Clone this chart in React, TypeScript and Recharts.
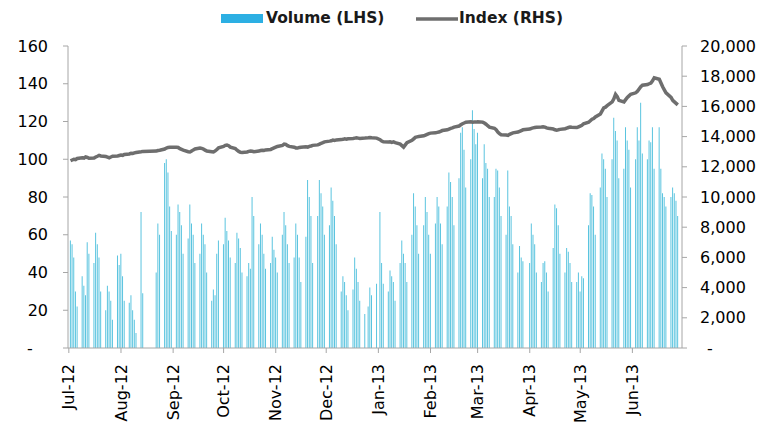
import React from "react";
import { ComposedChart, Bar, Line, XAxis, YAxis } from "recharts";

// month tick labels and the first calendar day of each month
const monthLabels = ["Jul-12", "Aug-12", "Sep-12", "Oct-12", "Nov-12", "Dec-12", "Jan-13", "Feb-13", "Mar-13", "Apr-13", "May-13", "Jun-13"];
const monthTicks = ["2012-07-01", "2012-08-01", "2012-09-01", "2012-10-01", "2012-11-01", "2012-12-01", "2013-01-01", "2013-02-01", "2013-03-01", "2013-04-01", "2013-05-01", "2013-06-01"];

// volume, one value per weekday (null = no trading)
const volJul12 = [57, 55, 48, 30, 22, 38, 33, 28, 56, 50, 45, 61, 55, 48, 30, 20, 33, 30, 25, 15, 49, 44];
const volAug12 = [50, 38, 25, 24, 28, 20, 15, 8, 72, 29, null, null, null, null, null, 40, 66, 60, 98, 100, 93, 75, 62];
const volSep12 = [60, 76, 72, 65, 50, 58, 76, 66, 60, 45, 50, 66, 60, 55, 40, 25, 31, 28, 50, 57];
const volOct12 = [55, 69, 62, 57, 48, 45, 61, 58, 53, 40, 38, 45, 42, 80, 70, 55, 66, 60, 50, 42, 45, 59, 52];
const volNov12 = [48, 40, 60, 72, 65, 55, 45, 48, 66, 60, 48, 35, 59, 89, 80, 70, 45, 70, 89, 82, 75, 60];
const volDec12 = [65, 85, 78, 70, 55, 30, 38, 35, 28, 20, 31, 48, 42, 35, 25, 18, null, 22, 32, 28, 34];
const volJan13 = [null, 72, 45, 34, 30, 41, 38, 35, 25, 45, 57, 50, 45, 35, 60, 82, 75, 65, 50, 65, 80, 72, 60];
const volFeb13 = [50, 66, 80, 75, 66, 55, 75, 93, 88, 80, 65, 90, 114, 117, 105, 85, 100, 126, 116, 108];
const volMar13 = [114, 90, 108, 98, 95, 80, 80, 95, 94, 85, 70, 60, 94, 75, 70, 55, 40, 54, 48, 46, null];
const volApr13 = [45, 66, 60, 55, 40, 35, 45, 46, 40, 30, 53, 76, 74, 65, 50, 40, 53, 51, 45, 35, 35, 40];
const volMay13 = [30, 38, 37, 65, 82, 81, 75, 60, 85, 103, 100, 95, 80, 100, 122, 115, 110, 90, 95, 117, 110, 105, 85];
const volJun13 = [100, 117, 110, 130, 103, 100, 110, 109, 117, 95, 117, 95, 82, 80, 75, 80, 85, 82, 78, 70];

// index level, one value per weekday
const idxJul12 = [12400, 12450, 12500, 12480, 12550, 12600, 12580, 12650, 12620, 12560, 12580, 12650, 12700, 12760, 12720, 12680, 12640, 12600, 12650, 12700, 12720, 12750];
const idxAug12 = [12780, 12760, 12820, 12850, 12900, 12880, 12920, 12950, 13000, 13020, null, null, null, null, null, 13040, 13080, 13100, 13180, 13240, 13280, 13300, 13300];
const idxSep12 = [13300, 13280, 13200, 13150, 13100, 13000, 12980, 13050, 13120, 13180, 13240, 13220, 13180, 13100, 13050, 13000, 12980, 13050, 13150, 13250];
const idxOct12 = [13350, 13420, 13440, 13400, 13300, 13200, 13100, 13020, 12960, 12950, 12980, 13020, 13050, 13030, 13000, 13040, 13080, 13100, 13080, 13120, 13150, 13200, 13250];
const idxNov12 = [13300, 13350, 13420, 13500, 13480, 13400, 13350, 13300, 13250, 13240, 13280, 13300, 13320, 13300, 13350, 13380, 13420, 13450, 13500, 13560, 13600, 13650];
const idxDec12 = [13700, 13720, 13770, 13750, 13780, 13800, 13820, 13850, 13830, 13860, 13880, 13900, 13920, 13900, 13880, 13900, null, 13920, 13940, 13920, 13900];
const idxJan13 = [null, 13800, 13700, 13650, 13640, 13660, 13620, 13650, 13600, 13500, 13400, 13300, 13450, 13600, 13750, 13850, 13950, 13980, 14000, 14050, 14100, 14150, 14200];
const idxFeb13 = [14230, 14250, 14280, 14300, 14350, 14400, 14450, 14500, 14550, 14580, 14630, 14700, 14780, 14850, 14900, 14950, 14980, 14950, 14970, 14960];
const idxMar13 = [14980, 14960, 14900, 14820, 14720, 14630, 14550, 14450, 14300, 14200, 14120, 14100, 14080, 14150, 14200, 14250, 14300, 14350, 14400, 14450, null];
const idxApr13 = [14500, 14550, 14580, 14600, 14620, 14630, 14650, 14630, 14580, 14550, 14500, 14450, 14430, 14450, 14480, 14520, 14560, 14600, 14630, 14620, 14600, 14650];
const idxMay13 = [14700, 14750, 14850, 14950, 15050, 15150, 15200, 15300, 15500, 15700, 15900, 15950, 16050, 16300, 16500, 16800, 16650, 16400, 16300, 16450, 16600, 16700, 16800];
const idxJun13 = [16900, 17000, 17150, 17300, 17400, 17450, 17500, 17550, 17700, 17900, 17800, 17550, 17300, 17100, 16900, 16600, 16400, 16300, 16200, 16100];

const volumeTicks = [0, 20, 40, 60, 80, 100, 120, 140, 160];
const indexTicks = [0, 2000, 4000, 6000, 8000, 10000, 12000, 14000, 16000, 18000, 20000];

const volumeByMonth = [volJul12, volAug12, volSep12, volOct12, volNov12, volDec12, volJan13, volFeb13, volMar13, volApr13, volMay13, volJun13];
const indexByMonth = [idxJul12, idxAug12, idxSep12, idxOct12, idxNov12, idxDec12, idxJan13, idxFeb13, idxMar13, idxApr13, idxMay13, idxJun13];

// one row per calendar day, bars only on weekdays (date axis like the original)
const buildRows = () => {
  const rows: { date: string; volume: number | null; index: number | null }[] = [];
  const pos = new Array(12).fill(0);
  const start = Date.UTC(2012, 6, 1);
  for (let i = 0; i < 365; i++) {
    const d = new Date(start + i * 86400000);
    const m = (d.getUTCFullYear() - 2012) * 12 + d.getUTCMonth() - 6;
    const wd = d.getUTCDay();
    let volume = null;
    let index = null;
    if (wd !== 0 && wd !== 6) {
      volume = volumeByMonth[m][pos[m]];
      index = indexByMonth[m][pos[m]];
      pos[m]++;
    }
    rows.push({ date: d.toISOString().slice(0, 10), volume, index });
  }
  return rows;
};

const data = buildRows();

const FONT = "DejaVu Sans";
const AXIS = "#a6a6a6";

const MonthTick = (props: any) => {
  const { x, y, payload } = props;
  const label = monthLabels[monthTicks.indexOf(payload.value)];
  return (
    <text transform={`translate(${x},${y + 9}) rotate(-90)`} textAnchor="end" dy="0.35em" fontSize={16} fontFamily={FONT} fill="#000">
      {label}
    </text>
  );
};

const LeftTick = (props: any) => {
  const { x, y, payload } = props;
  if (payload.value === 0) {
    return <text x={x - 18} y={y} dy="0.35em" textAnchor="middle" fontSize={16} fontFamily={FONT} fill="#000">-</text>;
  }
  return <text x={x} y={y} dy="0.35em" textAnchor="end" fontSize={16} fontFamily={FONT} fill="#000">{payload.value}</text>;
};

const RightTick = (props: any) => {
  const { x, y, payload } = props;
  if (payload.value === 0) {
    return <text x={x + 10} y={y} dy="0.35em" textAnchor="middle" fontSize={16} fontFamily={FONT} fill="#000">-</text>;
  }
  return <text x={x} y={y} dy="0.35em" textAnchor="start" fontSize={16} fontFamily={FONT} fill="#000">{payload.value.toLocaleString("en-US")}</text>;
};

const LegendBar = () => (
  <svg width={767} height={40} style={{ position: "absolute", left: 0, top: 0 }}>
    <rect x={221} y={14} width={42} height={9} fill="#2cafe3" />
    <text x={266} y={18} dy="0.35em" fontSize={15.5} fontWeight="bold" fontFamily={FONT} fill="#1a1a1a">Volume (LHS)</text>
    <line x1={416} y1={19} x2={458} y2={19} stroke="#6e6e6e" strokeWidth={3.5} />
    <text x={459} y={18} dy="0.35em" fontSize={15.5} fontWeight="bold" fontFamily={FONT} fill="#1a1a1a">Index (RHS)</text>
  </svg>
);

export default function App() {
  return (
    <div style={{ position: "absolute", left: 0, top: 0, width: 767, height: 433, background: "#fff" }}>
      <ComposedChart width={767} height={433} data={data} margin={{ top: 46, right: 8, bottom: 5, left: 8 }} barCategoryGap="12%">
        <XAxis
          dataKey="date"
          ticks={monthTicks}
          interval={0}
          height={80}
          tick={<MonthTick />}
          tickSize={5}
          tickMargin={2}
          stroke={AXIS}
        />
        <YAxis
          yAxisId="left"
          domain={[0, 160]}
          ticks={volumeTicks}
          width={60}
          tick={<LeftTick />}
          tickSize={5}
          tickMargin={15}
          stroke={AXIS}
        />
        <YAxis
          yAxisId="right"
          orientation="right"
          domain={[0, 20000]}
          ticks={indexTicks}
          width={77}
          tick={<RightTick />}
          tickSize={5}
          tickMargin={13}
          stroke={AXIS}
        />
        <Bar yAxisId="left" dataKey="volume" fill="#5ac4df" isAnimationActive={false} />
        <Line yAxisId="right" dataKey="index" stroke="#6e6e6e" strokeWidth={3.5} dot={false} connectNulls isAnimationActive={false} />
      </ComposedChart>
      <LegendBar />
    </div>
  );
}
